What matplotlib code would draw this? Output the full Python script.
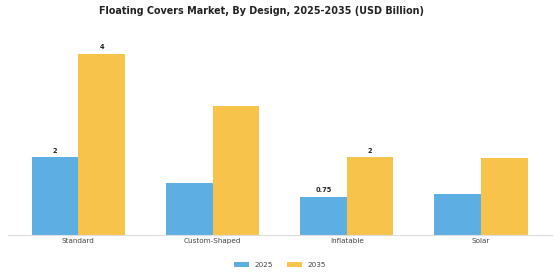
import matplotlib
matplotlib.use("Agg")
import matplotlib.pyplot as plt
import numpy as np

categories = ["Standard", "Custom-Shaped", "Inflatable", "Solar"]
values_2025 = [1.52, 1.01, 0.75, 0.81]
values_2035 = [3.55, 2.53, 1.52, 1.50]
labels_2025 = ["2", "", "0.75", ""]
labels_2035 = ["4", "", "2", ""]
series_names = ["2025", "2035"]

color_2025 = "#5DAFE3"
color_2035 = "#F7C34B"

fig = plt.figure(figsize=(5.6, 2.8), dpi=100)
ax = fig.add_axes([8/560, 45/280, 544/560, 200/280])

x = np.arange(len(categories))
w = 0.348
b1 = ax.bar(x - w/2, values_2025, w, color=color_2025, label=series_names[0])
b2 = ax.bar(x + w/2, values_2035, w, color=color_2035, label=series_names[1])

for rect, lab in zip(b1, labels_2025):
    if lab:
        ax.text(rect.get_x() + rect.get_width()/2, rect.get_height() + 0.07, lab,
                ha="center", va="bottom", fontsize=4.8, fontweight="bold", color="#222222")
for rect, lab in zip(b2, labels_2035):
    if lab:
        ax.text(rect.get_x() + rect.get_width()/2, rect.get_height() + 0.07, lab,
                ha="center", va="bottom", fontsize=4.8, fontweight="bold", color="#222222")

ax.set_xlim(-0.524, 3.53)
ax.set_ylim(0, 3.92)
ax.set_xticks(x)
ax.set_xticklabels(categories, fontsize=5.2, color="#444444")
ax.tick_params(axis="x", length=0, pad=2.5)
ax.set_yticks([])
for s in ["top", "right", "left"]:
    ax.spines[s].set_visible(False)
ax.spines["bottom"].set_color("#DDDDDD")
ax.spines["bottom"].set_linewidth(0.8)

fig.text(0.4675, 1 - 11/280, "Floating Covers Market, By Design, 2025-2035 (USD Billion)",
         ha="center", va="center", fontsize=6.9, fontweight="bold", color="#222222")

leg = fig.legend(handles=[b1, b2], labels=series_names, loc="center",
                 bbox_to_anchor=(280/560, 1 - 265/280), ncol=2, frameon=False,
                 fontsize=5.2, handlelength=2.0, handleheight=0.7, columnspacing=2.0,
                 handletextpad=0.8)
for t in leg.get_texts():
    t.set_color("#444444")

fig.savefig("out.png", dpi=100)
